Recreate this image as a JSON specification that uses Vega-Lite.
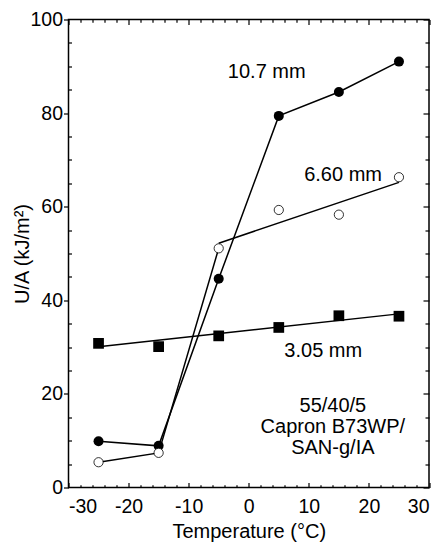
{
  "$schema": "https://vega.github.io/schema/vega-lite/v6.json",
  "width": 360.5,
  "height": 468,
  "autosize": {"type": "none"},
  "padding": {"left": 68.5, "top": 19.5, "right": 12, "bottom": 58.5},
  "background": "white",
  "config": {
    "view": {"stroke": "black", "strokeWidth": 1.5},
    "font": "Liberation Sans",
    "axis": {
      "domain": false,
      "grid": false,
      "labelFont": "Liberation Sans",
      "labelFontSize": 19.5,
      "labelColor": "black",
      "titleFont": "Liberation Sans",
      "titleFontSize": 20,
      "titleFontWeight": "normal",
      "titleColor": "black",
      "tickColor": "black",
      "tickWidth": 1.2
    }
  },
  "datasets": {
    "points": [
      {"series": "10.7 mm", "temp": -25, "ua": 9.9},
      {"series": "10.7 mm", "temp": -15, "ua": 8.9},
      {"series": "10.7 mm", "temp": -5, "ua": 44.6},
      {"series": "10.7 mm", "temp": 5, "ua": 79.4},
      {"series": "10.7 mm", "temp": 15, "ua": 84.5},
      {"series": "10.7 mm", "temp": 25, "ua": 91.0},
      {"series": "6.60 mm", "temp": -25, "ua": 5.4},
      {"series": "6.60 mm", "temp": -15, "ua": 7.4},
      {"series": "6.60 mm", "temp": -5, "ua": 51.1},
      {"series": "6.60 mm", "temp": 5, "ua": 59.3},
      {"series": "6.60 mm", "temp": 15, "ua": 58.3},
      {"series": "6.60 mm", "temp": 25, "ua": 66.3},
      {"series": "3.05 mm", "temp": -25, "ua": 30.8},
      {"series": "3.05 mm", "temp": -15, "ua": 30.1},
      {"series": "3.05 mm", "temp": -5, "ua": 32.4},
      {"series": "3.05 mm", "temp": 5, "ua": 34.2},
      {"series": "3.05 mm", "temp": 15, "ua": 36.7},
      {"series": "3.05 mm", "temp": 25, "ua": 36.6}
    ],
    "lines": [
      {"segment": "10.7 mm", "order": 1, "temp": -25, "ua": 9.9},
      {"segment": "10.7 mm", "order": 2, "temp": -15, "ua": 8.9},
      {"segment": "10.7 mm", "order": 3, "temp": -5, "ua": 44.6},
      {"segment": "10.7 mm", "order": 4, "temp": 5, "ua": 79.4},
      {"segment": "10.7 mm", "order": 5, "temp": 15, "ua": 84.5},
      {"segment": "10.7 mm", "order": 6, "temp": 25, "ua": 91.0},
      {"segment": "6.60 mm low", "order": 1, "temp": -25, "ua": 5.4},
      {"segment": "6.60 mm low", "order": 2, "temp": -15, "ua": 7.4},
      {"segment": "6.60 mm low", "order": 3, "temp": -5, "ua": 51.1},
      {"segment": "6.60 mm fit", "order": 1, "temp": -5, "ua": 52.2},
      {"segment": "6.60 mm fit", "order": 2, "temp": 25, "ua": 65.2},
      {"segment": "3.05 mm fit", "order": 1, "temp": -25, "ua": 30.1},
      {"segment": "3.05 mm fit", "order": 2, "temp": 25, "ua": 37.1}
    ],
    "labels": [
      {"temp": 3.0, "ua": 88.8, "text": "10.7 mm"},
      {"temp": 15.7, "ua": 66.8, "text": "6.60 mm"},
      {"temp": 12.4, "ua": 29.2, "text": "3.05 mm"},
      {"temp": 14.0, "ua": 17.4, "text": "55/40/5"},
      {"temp": 14.0, "ua": 12.9, "text": "Capron B73WP/"},
      {"temp": 14.0, "ua": 8.4, "text": "SAN-g/IA"}
    ]
  },
  "layer": [
    {
      "data": {"name": "lines"},
      "mark": {"type": "line", "color": "black", "strokeWidth": 1.5},
      "encoding": {
        "x": {"field": "temp", "type": "quantitative",
          "scale": {"domain": [-30, 30], "nice": false, "zero": false},
          "axis": {"orient": "bottom", "values": [-30, -20, -10, 0, 10, 20, 30], "tickSize": -5, "labelPadding": 15, "labelExpr": "'' + datum.value", "title": "Temperature (°C)", "titlePadding": 5}},
        "y": {"field": "ua", "type": "quantitative",
          "scale": {"domain": [0, 100], "nice": false, "zero": false},
          "axis": {"orient": "left", "values": [0, 20, 40, 60, 80, 100], "tickSize": 5, "labelPadding": 1, "title": "U/A (kJ/m²)", "titlePadding": -3}},
        "detail": {"field": "segment"},
        "order": {"field": "order"}
      }
    },
    {
      "data": {"name": "points"},
      "transform": [{"filter": "datum.series === '10.7 mm'"}],
      "mark": {"type": "point", "shape": "circle", "filled": true, "color": "black", "size": 100, "opacity": 1},
      "encoding": {
        "x": {"field": "temp", "type": "quantitative",
          "scale": {"domain": [-30, 30], "nice": false, "zero": false},
          "axis": {"orient": "bottom", "values": [-28, -26, -24, -22, -18, -16, -14, -12, -8, -6, -4, -2, 2, 4, 6, 8, 12, 14, 16, 18, 22, 24, 26, 28], "tickSize": -2.7, "labels": false, "title": null}},
        "y": {"field": "ua", "type": "quantitative",
          "scale": {"domain": [0, 100], "nice": false, "zero": false},
          "axis": {"orient": "left", "values": [5, 10, 15, 25, 30, 35, 45, 50, 55, 65, 70, 75, 85, 90, 95], "tickSize": -3, "labels": false, "title": null}}
      }
    },
    {
      "data": {"name": "points"},
      "transform": [{"filter": "datum.series === '6.60 mm'"}],
      "mark": {"type": "point", "shape": "circle", "filled": false, "fill": "white", "stroke": "black", "strokeWidth": 0.8, "size": 85, "opacity": 1},
      "encoding": {
        "x": {"field": "temp", "type": "quantitative",
          "scale": {"domain": [-30, 30], "nice": false, "zero": false},
          "axis": {"orient": "top", "values": [-30, -20, -10, 0, 10, 20, 30], "tickSize": -5, "labels": false, "title": null}},
        "y": {"field": "ua", "type": "quantitative",
          "scale": {"domain": [0, 100], "nice": false, "zero": false},
          "axis": {"orient": "right", "values": [0, 20, 40, 60, 80, 100], "tickSize": -6, "labels": false, "title": null}}
      }
    },
    {
      "data": {"name": "points"},
      "transform": [{"filter": "datum.series === '3.05 mm'"}],
      "mark": {"type": "square", "filled": true, "color": "black", "size": 115, "opacity": 1},
      "encoding": {
        "x": {"field": "temp", "type": "quantitative",
          "scale": {"domain": [-30, 30], "nice": false, "zero": false},
          "axis": {"orient": "top", "values": [-28, -26, -24, -22, -18, -16, -14, -12, -8, -6, -4, -2, 2, 4, 6, 8, 12, 14, 16, 18, 22, 24, 26, 28], "tickSize": -2.7, "labels": false, "title": null}},
        "y": {"field": "ua", "type": "quantitative",
          "scale": {"domain": [0, 100], "nice": false, "zero": false},
          "axis": {"orient": "right", "values": [5, 10, 15, 25, 30, 35, 45, 50, 55, 65, 70, 75, 85, 90, 95], "tickSize": -4, "labels": false, "title": null}}
      }
    },
    {
      "data": {"name": "labels"},
      "mark": {"type": "text", "font": "Liberation Sans", "fontSize": 20, "color": "black", "align": "center", "baseline": "middle"},
      "encoding": {
        "x": {"field": "temp", "type": "quantitative", "scale": {"domain": [-30, 30], "nice": false, "zero": false}, "axis": null},
        "y": {"field": "ua", "type": "quantitative", "scale": {"domain": [0, 100], "nice": false, "zero": false}, "axis": null},
        "text": {"field": "text"}
      }
    }
  ],
  "resolve": {"axis": {"x": "independent", "y": "independent"}}
}
